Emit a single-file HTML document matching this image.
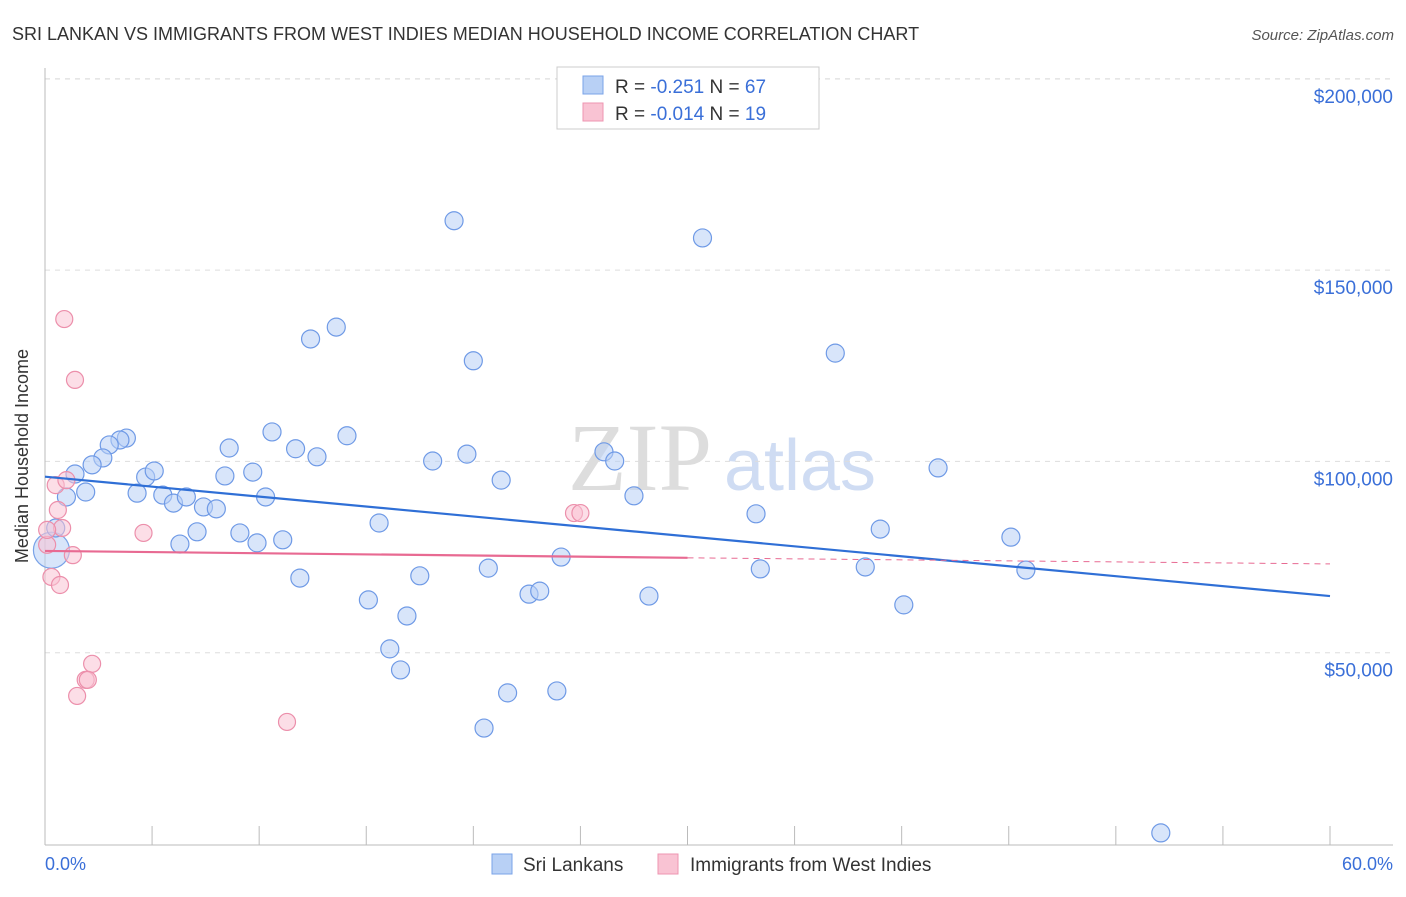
<!DOCTYPE html>
<html><head><meta charset="utf-8"><style>
body{margin:0;background:#fff;font-family:"Liberation Sans",sans-serif;}
</style></head><body>
<svg id="chart" width="1406" height="892" xmlns="http://www.w3.org/2000/svg">
<text x="12" y="40" font-size="18" fill="#333">SRI LANKAN VS IMMIGRANTS FROM WEST INDIES MEDIAN HOUSEHOLD INCOME CORRELATION CHART</text>
<text x="1394" y="40" font-size="15" fill="#555" font-style="italic" text-anchor="end">Source: ZipAtlas.com</text>
<text x="640" y="490" font-size="96" fill="#ddd" font-family="Liberation Serif" text-anchor="middle">ZIP</text>
<text x="800" y="490" font-size="72" fill="#cfdcf3" text-anchor="middle">atlas</text>
<g id="grid"></g>
<line x1="45" y1="68" x2="45" y2="845" stroke="#bbb"/>
<line x1="45" y1="845" x2="1393" y2="845" stroke="#bbb"/>
<text x="28" y="456" font-size="18" fill="#333" text-anchor="middle" transform="rotate(-90 28 456)">Median Household Income</text>
<text x="45" y="870" font-size="18" fill="#3a6fd8">0.0%</text>
<text x="1393" y="870" font-size="18" fill="#3a6fd8" text-anchor="end">60.0%</text>
<g id="marks"></g>
<g>
<rect x="557" y="67" width="262" height="62" fill="#fff" stroke="#ccc"/>
<rect x="583" y="76" width="20" height="18" fill="#b8d0f5" stroke="#7aa3e8"/>
<rect x="583" y="103" width="20" height="18" fill="#f9c3d3" stroke="#ee94b0"/>
<text x="615" y="93" font-size="19" fill="#333">R = <tspan fill="#3a6fd8">-0.251</tspan>   N = <tspan fill="#3a6fd8">67</tspan></text>
<text x="615" y="120" font-size="19" fill="#333">R = <tspan fill="#3a6fd8">-0.014</tspan>   N = <tspan fill="#3a6fd8"> 19</tspan></text>
</g>
<g>
<rect x="492" y="854" width="20" height="20" fill="#b8d0f5" stroke="#7aa3e8"/>
<text x="523" y="871" font-size="19" fill="#333">Sri Lankans</text>
<rect x="658" y="854" width="20" height="20" fill="#f9c3d3" stroke="#ee94b0"/>
<text x="690" y="871" font-size="19" fill="#333">Immigrants from West Indies</text>
</g>
</svg>
<script>
const yTicks=[50000,100000,150000,200000];
const yTickLabels=["$50,000","$100,000","$150,000","$200,000"];
const xTicks=[0,5,10,15,20,25,30,35,40,45,50,55,60];
const blueX=[19.1,30.7,12.4,13.6,20.0,36.9,3.8,3.5,3.0,2.7,2.2,1.4,1.9,1.0,0.5,4.3,4.7,5.1,5.5,6.0,6.6,6.3,7.1,7.4,8.0,8.4,8.6,9.1,9.7,9.9,10.3,10.6,11.1,11.7,11.9,12.7,14.1,15.6,15.1,16.1,16.6,16.9,17.5,18.1,19.7,20.7,21.3,21.6,20.5,22.6,23.1,23.9,24.1,26.1,26.6,27.5,28.2,33.2,33.4,38.3,39.0,40.1,41.7,45.1,45.8,52.1];
const blueY=[162.9,158.4,132.0,135.1,126.3,128.3,106.1,105.6,104.3,100.9,99.1,96.7,92.0,90.7,82.6,91.7,95.9,97.5,91.2,89.1,90.7,78.4,81.6,88.1,87.6,96.2,103.5,81.3,97.2,78.7,90.7,107.7,79.5,103.3,69.5,101.2,106.7,83.9,63.8,51.0,45.5,59.6,70.1,100.1,101.9,72.1,95.1,39.5,30.3,65.3,66.1,40.0,75.0,102.5,100.1,91.0,64.8,86.3,71.9,72.4,82.3,62.5,98.3,80.2,71.6,2.9];
const pinkX=[0.9,1.4,0.5,1.0,0.6,0.8,0.1,1.3,0.3,0.7,4.6,2.2,1.9,2.0,1.5,11.3,24.7,25.0,0.1];
const pinkY=[137.2,121.3,93.8,95.1,87.3,82.6,78.2,75.5,69.8,67.7,81.3,47.1,42.9,42.9,38.7,31.9,86.5,86.5,82.1];
const bigBlue=[0.3,76.8];
const blueTrend=[[0,96.0],[60,64.8]];
const pinkTrend=[[0,76.6],[30,74.8],[60,73.2]];
const NS="http://www.w3.org/2000/svg";
const sx=v=>45+v*(1285/60);
const sy=v=>844-v*(191.3/50);
const grid=document.getElementById('grid'),marks=document.getElementById('marks');
function mk(tag,attrs,parent){const e=document.createElementNS(NS,tag);for(const k in attrs)e.setAttribute(k,attrs[k]);parent.appendChild(e);return e;}
yTicks.forEach((t,i)=>{
 const y=sy(t/1000);
 const l=mk('line',{x1:45,x2:1393,y1:y,y2:y,stroke:'#ddd','stroke-dasharray':'5,5'},grid);
 
 
 const tx=mk('text',{x:1393,y:y+24,'font-size':19,fill:'#3a6fd8','text-anchor':'end'},grid);
 tx.textContent=yTickLabels[i];
 
 
});
const tg=mk('line',{x1:45,x2:1393,y1:79,y2:79,stroke:'#ddd','stroke-dasharray':'5,5'},grid);


xTicks.forEach(t=>{
 const x=sx(t);
 const l=mk('line',{x1:x,x2:x,y1:826,y2:845,stroke:'#bbb'},grid);
 
 
});
function pt(x,y,r,fill,stroke,name){
 const c=mk('circle',{cx:sx(x),cy:sy(y),r:r,fill:fill,'fill-opacity':0.55,stroke:stroke,'stroke-width':1.2},marks);
 
 
}
pt(bigBlue[0],bigBlue[1],18,'#b8d0f5','#7aa3e8','sri-lankan-point-large');
blueX.forEach((x,i)=>pt(x,blueY[i],9,'#b8d0f5','#6f9ae6','sri-lankan-point'));
pinkX.forEach((x,i)=>pt(x,pinkY[i],8.5,'#f9c3d3','#ec8fab','west-indies-point'));
const bl=mk('line',{x1:sx(blueTrend[0][0]),y1:sy(blueTrend[0][1]),x2:sx(blueTrend[1][0]),y2:sy(blueTrend[1][1]),stroke:'#2f6fd6','stroke-width':2.2},marks);


const pl=mk('line',{x1:sx(pinkTrend[0][0]),y1:sy(pinkTrend[0][1]),x2:sx(pinkTrend[1][0]),y2:sy(pinkTrend[1][1]),stroke:'#e86a92','stroke-width':2.2},marks);


const pd=mk('line',{x1:sx(pinkTrend[1][0]),y1:sy(pinkTrend[1][1]),x2:sx(pinkTrend[2][0]),y2:sy(pinkTrend[2][1]),stroke:'#e86a92','stroke-width':1,'stroke-dasharray':'6,5'},marks);


</script>
</body></html>
